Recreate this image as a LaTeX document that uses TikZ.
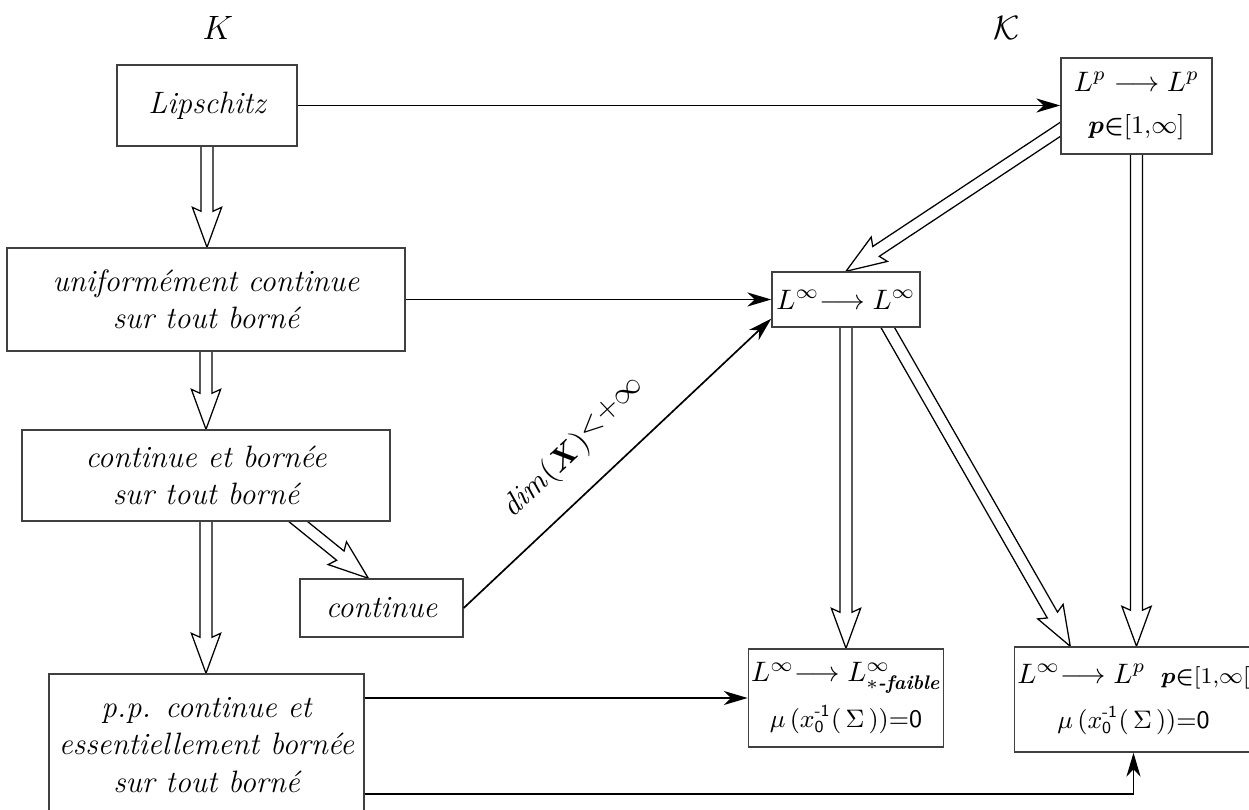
\documentclass[tikz,border=0pt]{standalone}
\usepackage{amsmath,amssymb}
\usepackage{xcolor}
\usepackage{tikz}
\usetikzlibrary{calc,arrows.meta,backgrounds}
\definecolor{edge}{HTML}{404040}
\tikzset{
  box/.style={draw=edge, fill=white, line width=0.5pt, inner sep=1pt, align=center,
    font=\fontsize{11pt}{13.2pt}\selectfont\itshape},
  sarrow/.style={draw=black, line width=0.6pt, -{Stealth[length=8.5pt,width=5pt,inset=2.6pt]}},
  dbl/.style={draw=black, line width=0.45pt, line join=miter},
  lab/.style={text=black},
}
% hollow double-shaft arrow from #1 to #2 (tail hidden under the box)
\newcommand{\implarrow}[2]{%
  \coordinate (i0) at (#1);
  \coordinate (ib) at (#2);
  \coordinate (ia) at ($(i0)!-8pt!(ib)$);
  \coordinate (ij) at ($(ib)!12.8pt!(ia)$);
  \coordinate (io) at ($(ib)!14.2pt!(ia)$);
  \draw[dbl] ($(ia)!2.1pt!90:(ib)$) -- ($(ij)!2.1pt!90:(ib)$) -- ($(io)!5.2pt!90:(ib)$) -- (ib)
    -- ($(io)!5.2pt!-90:(ib)$) -- ($(ij)!2.1pt!-90:(ib)$) -- ($(ia)!2.1pt!-90:(ib)$) -- cycle;
}
\newcommand{\mucond}{\small$\mu\,(x_{\text{\sffamily\upshape 0}}^{\text{\sffamily\upshape -1}}(\,\Sigma\,))$\textsf{\upshape =0}}

\begin{document}
\begin{tikzpicture}[x=0.0125cm, y=0.0125cm]
  \useasboundingbox (0,0) rectangle (1249,810);
  \clip (0,0) rectangle (1249,810);

  \node[lab] (nK) at (218,782) {\large$K$};
  \node[lab] (ncK) at (1007,782) {\large$\mathcal{K}$};

  % left column
  \node[box, minimum width=2.25cm, minimum height=1.0125cm] (lip) at (207,704.5) {Lipschitz};
  \node[box, minimum width=4.975cm, minimum height=1.2875cm] (unif) at (206,510.5)
    {uniformément continue\\sur tout borné};
  \node[box, minimum width=4.6cm, minimum height=1.1375cm] (cb) at (206,334.5)
    {continue et bornée\\sur tout borné};
  \node[box, minimum width=2.0375cm, minimum height=0.725cm] (cont) at (381.5,202) {continue};
  \node[box, minimum width=3.9375cm, minimum height=1.775cm] (pp) at (206.5,65)
    {p.p. continue et\\essentiellement bornée\\sur tout borné};

  % right side
  \node[box, minimum width=1.8875cm, minimum height=1.2cm] (lplp) at (1136.5,704)
    {\normalsize$L^p \longrightarrow L^p$\\[2pt]
     \small$\boldsymbol{p}{\boldsymbol{\in}}[1{,}\infty]$};
  \node[box, minimum width=1.85cm, minimum height=0.6875cm] (linf) at (846,510.5)
    {\normalsize${L^{\infty}}{\longrightarrow}\;L^{\infty}$};
  \node[box, minimum width=2.425cm, minimum height=1.225cm] (lsf) at (846,112)
    {\normalsize${L^{\infty}}{\longrightarrow}\;L^{\infty}_{*\textbf{\textit{-faible}}}$\\[3pt]
     \mucond};
  \node[box, minimum width=2.8625cm, minimum height=1.3125cm] (lpinf) at (1133.5,110.5)
    {\normalsize${L^{\infty}}{\longrightarrow}\;L^{p}$\;\;{\footnotesize$\boldsymbol{p}{\boldsymbol{\in}}[1{,}\infty[$}\\[3pt]
     \mucond};

  % implications
  \begin{scope}[on background layer]
    \implarrow{lip.south}{lip.south |- unif.north}
    \implarrow{unif.south}{unif.south |- cb.north}
    \implarrow{cb.south}{cb.south |- pp.north}
    \implarrow{$(cb.south west)!0.75!(cb.south east)$}{$(cont.north west)!0.42!(cont.north east)$}
    \implarrow{$(lplp.south west)!0.26!(lplp.north west)$}{linf.north}
    \implarrow{linf.south}{linf.south |- lsf.north}
    \implarrow{$(linf.south west)!0.78!(linf.south east)$}{$(lpinf.north west)!0.236!(lpinf.north east)$}
    \implarrow{lplp.south}{lplp.south |- lpinf.north}
  \end{scope}

  % plain arrows
  \draw[sarrow] (lip.east) -- (lip.east -| lplp.west);
  \draw[sarrow] (unif.east) -- (linf.west);
  \draw[sarrow] (cont.east) -- ($(linf.south west)!0.16!(linf.north west)$)
    node[pos=0.45, sloped, above=5pt, font=\fontsize{11pt}{13pt}\selectfont]
    {$\mathit{dim}(\boldsymbol{X})$\raisebox{2pt}{$<$\textsf{+}$\infty$}};
  \draw[sarrow] (pp.east |- lsf.west) -- (lsf.west);
  \draw[sarrow] ($(pp.south east)+(0,23)$) -| (lpinf.south);
\end{tikzpicture}
\end{document}
